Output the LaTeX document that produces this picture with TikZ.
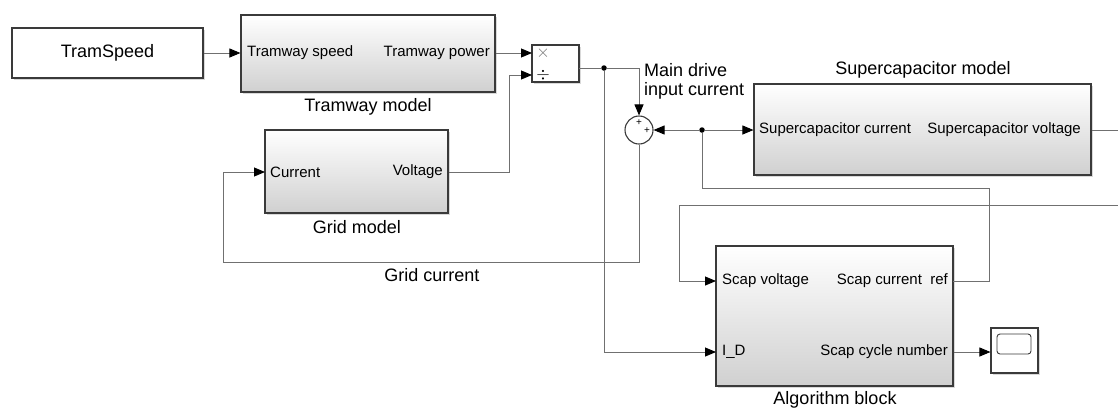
\documentclass[tikz,border=0pt]{standalone}
\usepackage{fontspec}
\setmainfont{Liberation Sans}
\usepackage{tikz}
\usetikzlibrary{arrows.meta,positioning,shadows}
\usepackage{xcolor}
\definecolor{WireGrey}{HTML}{707070}
\definecolor{EdgeGrey}{HTML}{3A3A3A}
\definecolor{ShadeGrey}{HTML}{D0D0D0}

\begin{document}
\begin{tikzpicture}[x=1pt,y=-1pt,
  blk/.style={draw=EdgeGrey,line width=1.1pt,top color=white,middle color=white,bottom color=ShadeGrey,
    drop shadow={shadow xshift=1.5pt,shadow yshift=-1.5pt,opacity=.3},inner sep=0pt},
  plain/.style={draw=EdgeGrey,line width=1.1pt,fill=white,
    drop shadow={shadow xshift=1.5pt,shadow yshift=-1.5pt,opacity=.3},inner sep=0pt},
  port/.style={font=\fontsize{15}{18}\selectfont,inner sep=0pt},
  lbl/.style={font=\fontsize{18}{19}\selectfont,inner sep=0pt},
  wire/.style={draw=WireGrey,line width=.9pt},
  sig/.style={wire,-{Triangle[length=11pt,width=9pt,color=black]}},
  tap/.style={circle,fill=black,inner sep=0pt,minimum size=5.5pt}]
\useasboundingbox (0,0) rectangle (1118,408);

\node[plain,lbl,minimum width=191pt,minimum height=50pt] (speedsrc) at (107.5,53) {TramSpeed};

\node[blk,minimum width=254pt,minimum height=77pt] (tram) at (368,53.5) {};
\node[port,anchor=west] (tramin) at (247,53) {Tramway speed};
\node[port,anchor=east] (tramout) at (490,53) {Tramway power};
\node[lbl] (tramlbl) at (368,107) {Tramway model};

\node[plain,minimum width=47pt,minimum height=37pt] (prod) at (555.5,63.5) {};
\node[font=\fontsize{16}{16}\selectfont,text=black!55,inner sep=0pt] (mul) at (543,53) {$\times$};
\node[font=\fontsize{16}{16}\selectfont,inner sep=0pt] (dvd) at (543,75) {$\div$};

\node[blk,minimum width=183pt,minimum height=83pt] (grid) at (356.5,171.5) {};
\node[port,anchor=west] (gridin) at (270,172) {Current};
\node[port,anchor=east] (gridout) at (443,172) {Voltage};
\node[lbl] (gridlbl) at (357,227) {Grid model};

\node[circle,draw=EdgeGrey,line width=1.1pt,fill=white,minimum size=28pt,inner sep=0pt] (sum) at (639,130) {};
\node[font=\fontsize{10}{10}\selectfont,inner sep=0pt] (plusA) at (639,123) {+};
\node[font=\fontsize{10}{10}\selectfont,inner sep=0pt] (plusB) at (647,131) {+};
\node[lbl,anchor=west,align=left] (drivelbl) at (644,81.5) {Main drive\\input current};

\node[blk,minimum width=337pt,minimum height=91pt] (scap) at (922.5,129.5) {};
\node[port,anchor=west] (scapin) at (759,130) {Supercapacitor current};
\node[port,anchor=east] (scapout) at (1081,130) {Supercapacitor voltage};
\node[lbl] (scaplbl) at (923,70) {Supercapacitor model};

\node[blk,minimum width=237pt,minimum height=140pt] (algo) at (834.5,316) {};
\node[port,anchor=west] (algoinV) at (722,281) {Scap voltage};
\node[port,anchor=west] (algoinD) at (722,352) {I\_D};
\node[port,anchor=east] (algooutR) at (948,281) {Scap current\ \ ref};
\node[port,anchor=east] (algooutN) at (948,352) {Scap cycle number};
\node[lbl] (algolbl) at (835,400) {Algorithm block};

\node[plain,minimum width=47pt,minimum height=45pt] (scope) at (1014.5,350.5) {};
\node[draw=EdgeGrey,line width=.9pt,rounded corners=3pt,minimum width=34pt,minimum height=20pt,inner sep=0pt] (screen) at (1014,344) {};

\node[lbl] (fblbl) at (432,275) {Grid current};

\coordinate (prodA) at (532,53);
\coordinate (prodB) at (532,75);
\coordinate (prodout) at (579,68);
\coordinate (gridport) at (265,172);
\coordinate (fbcorner) at (223,262);
\coordinate (algoD) at (716,352);
\coordinate (algoV) at (716,281);
\coordinate (algoRef) at (953,281);
\coordinate (refbend) at (989,188);
\coordinate (edgeA) at (1118,130);
\coordinate (edgeB) at (1118,205);
\coordinate (vbend) at (679,205);
\node[tap] (brA) at (604,68) {};
\node[tap] (brB) at (702,130) {};

\draw[sig] (speedsrc.east) -- (speedsrc.east -| tram.west);
\draw[sig] (tram.east |- prodA) -- (prodA);
\draw[sig] (grid.east |- gridport) -- ++(61,0) |- (prodB);
\draw[wire] (prodout) -- (brA);
\draw[sig] (brA) -| (sum.north);
\draw[sig] (brA) |- (algoD);
\draw[sig] (sum.south) |- (fbcorner) |- (gridport);
\draw[sig] (brB) -- (sum.east);
\draw[sig] (brB) -- (scap.west |- brB);
\draw[wire] (algoRef) -| (refbend) -| (brB);
\draw[wire] (scap.east |- edgeA) -- (edgeA);
\draw[sig] (edgeB) -- (vbend) |- (algoV);
\draw[sig] (algo.east |- algoD) -- (scope.west |- algoD);
\end{tikzpicture}
\end{document}
